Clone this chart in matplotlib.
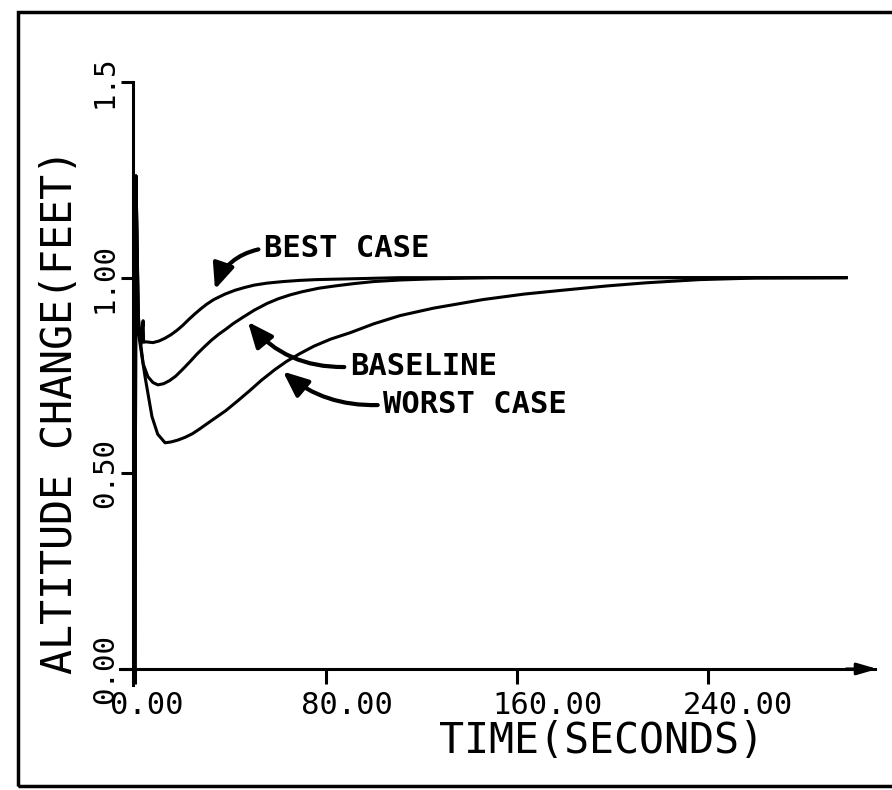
from matplotlib import pyplot as plt
from matplotlib.patches import Rectangle
import matplotlib.transforms as mtransforms

# readings (time in s, altitude change in ft)
t_best = [0, 0.4, 1.4, 2.5, 3.4, 3.6, 4.6, 6, 7.5, 10, 12.5, 15, 17.5, 20, 22.5, 25,
          27.5, 30, 33, 37.7, 42, 46, 50, 55.3, 62, 69, 76, 82.9, 90, 97, 104, 111, 298]
alt_best = [0, 1.26, 0.90, 0.83, 0.89, 0.835, 0.836, 0.835, 0.834, 0.838, 0.845, 0.854,
            0.865, 0.878, 0.893, 0.907, 0.92, 0.932, 0.944, 0.958, 0.968, 0.975, 0.981,
            0.986, 0.990, 0.993, 0.995, 0.996, 0.997, 0.998, 0.999, 1.0, 1.0]

t_base = [0, 0.4, 1.4, 3.4, 5.4, 7.5, 9.6, 12, 14.5, 17, 20, 23, 26, 29, 32, 35, 38, 41,
          45, 50, 55.3, 60, 65, 70, 77, 84, 92, 100, 111, 125, 140, 150, 298]
alt_base = [0, 1.26, 0.88, 0.78, 0.747, 0.732, 0.726, 0.729, 0.737, 0.748, 0.766, 0.785,
            0.805, 0.823, 0.84, 0.855, 0.868, 0.882, 0.898, 0.917, 0.934, 0.946, 0.956,
            0.964, 0.973, 0.979, 0.985, 0.99, 0.994, 0.997, 0.999, 1.0, 1.0]

t_worst = [0, 0.4, 1.4, 4.2, 7.1, 9.5, 12.6, 15, 18, 21, 24, 27, 30, 34, 38, 43, 48.2,
           53, 58.6, 63.5, 69.1, 75, 82, 90, 100, 111, 125, 145.8, 163, 181, 198, 214.5,
           236.6, 260, 297.4]
alt_worst = [0, 1.26, 0.86, 0.747, 0.645, 0.6, 0.578, 0.58, 0.585, 0.592, 0.601, 0.613,
             0.626, 0.643, 0.66, 0.685, 0.712, 0.738, 0.765, 0.786, 0.806, 0.825, 0.843,
             0.859, 0.882, 0.903, 0.922, 0.944, 0.958, 0.969, 0.979, 0.987, 0.995, 0.999, 1.0]

x_ticks = [0, 80, 160, 240]
x_tick_labels = ['0.00', '80.00', '160.00', '240.00']
y_ticks = [0, 0.5, 1.0, 1.5]
y_tick_labels = ['0.00', '0.50', '1.00', '1.5']

# label text, arrow tip, text anchor, bend
notes = [('BEST CASE', (33.5, 0.97), (54, 1.075), 0.3),
         ('BASELINE', (47.3, 0.887), (90, 0.772), -0.25),
         ('WORST CASE', (62, 0.76), (104, 0.675), -0.2)]

plt.rcParams['font.family'] = ['DejaVu Sans Mono']

fig = plt.figure(figsize=(8.92, 7.9), dpi=100)
ax = fig.add_axes([0.1345, 0.1334, 0.8464, 0.7628])

for t, a in [(t_best, alt_best), (t_base, alt_base), (t_worst, alt_worst)]:
    ax.plot(t, a, color='black', lw=2.2, solid_joinstyle='round')

ax.set_xlim(-6.3, 310)
ax.set_ylim(-0.04, 1.5)

for s in ['top', 'right']:
    ax.spines[s].set_visible(False)
ax.spines['left'].set_position(('data', -1))
ax.spines['bottom'].set_position(('data', 0))
ax.spines['left'].set_linewidth(2.2)
ax.spines['bottom'].set_linewidth(2.2)

# arrow head at the end of the time axis
ax.annotate('', xy=(311, 0), xytext=(298, 0),
            arrowprops=dict(arrowstyle='-|>,head_length=1.2,head_width=0.35',
                            color='black', lw=2.2, shrinkA=0, shrinkB=0),
            annotation_clip=False)

ax.set_xticks(x_ticks)
ax.set_xticklabels(x_tick_labels, fontsize=22)
ax.set_yticks(y_ticks)
ax.set_yticklabels(y_tick_labels, fontsize=21, rotation=90, va='center')
ax.tick_params(axis='x', direction='out', length=11, width=2.2, pad=5)
ax.tick_params(axis='y', direction='out', length=9, width=2.2, pad=1)

shift = mtransforms.ScaledTranslation(-0.25, 0, fig.dpi_scale_trans)
for lbl in ax.get_xticklabels():
    lbl.set_ha('left')
    lbl.set_transform(lbl.get_transform() + shift)

ax.set_xlabel('TIME(SECONDS)', fontsize=30, va='center')
ax.xaxis.set_label_coords(0.638, -0.093)
ax.set_ylabel('ALTITUDE CHANGE(FEET)', fontsize=30, va='center')
ax.yaxis.set_label_coords(-0.08, 0.454)

for txt, tip, pos, rad in notes:
    ax.annotate(txt, xy=tip, xytext=pos, fontsize=22, fontweight='bold',
                ha='left', va='center',
                arrowprops=dict(arrowstyle='-|>,head_length=0.7,head_width=0.3',
                                connectionstyle='arc3,rad=%s' % rad,
                                color='black', lw=3, shrinkA=2, shrinkB=0,
                                relpos=(0, 0.5)))

# frame round the whole picture
fig.add_artist(Rectangle((0.02, 0.005), 1.0, 0.98, transform=fig.transFigure,
                         fill=False, lw=2.5, color='black'))

fig.savefig('out.png', dpi=100)
plt.close()
